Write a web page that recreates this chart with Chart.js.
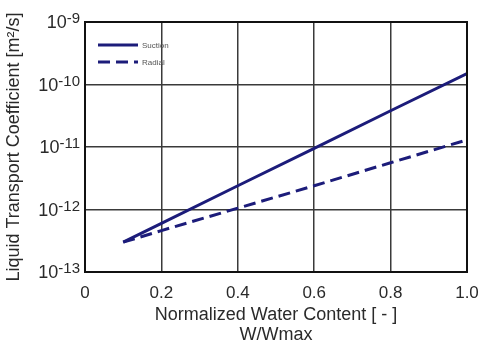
<!DOCTYPE html>
<html>
<head>
<meta charset="utf-8">
<script src="https://cdn.jsdelivr.net/npm/chart.js@4.4.0/dist/chart.umd.min.js"></script>
<style>
  html, body { margin: 0; padding: 0; background: #fff; }
  #wrap { width: 482px; height: 347px; }
</style>
</head>
<body>
<div id="wrap"><canvas id="grafico"></canvas></div>
<script>
// datos
var contenido = [0.1, 0.2, 0.4, 0.6, 0.8, 1.0];
var succion = [3.0e-13, 6.0e-13, 2.4e-12, 9.5e-12, 3.8e-11, 1.5e-10];
var radial = [3.0e-13, 4.6e-13, 1.05e-12, 2.4e-12, 5.6e-12, 1.3e-11];
var ticksX = [0, 0.2, 0.4, 0.6, 0.8, 1.0];
var exponentesY = [-13, -12, -11, -10, -9];

var colorLinea = '#1c1c7a';
var colorTexto = '#2a2a2a';
var fuente = '"Liberation Sans", Arial, sans-serif';

function puntos(valores) {
    return contenido.map(function (x, i) {
        return { x: x, y: valores[i] };
    });
}

// etiquetas 10^n con exponente elevado
var etiquetasY = {
    id: 'etiquetasY',
    afterDraw: function (chart) {
        var ctx = chart.ctx;
        var escala = chart.scales.y;
        ctx.save();
        ctx.fillStyle = colorTexto;
        ctx.textBaseline = 'alphabetic';
        ctx.textAlign = 'left';
        exponentesY.forEach(function (e) {
            var y = escala.getPixelForValue(Math.pow(10, e));
            var exp = '-' + Math.abs(e);
            ctx.font = '15px ' + fuente;
            var wExp = ctx.measureText(exp).width;
            var derecha = escala.right - 5;
            ctx.fillText(exp, derecha - wExp, y + 1);
            ctx.font = '18px ' + fuente;
            var wBase = ctx.measureText('10').width;
            ctx.fillText('10', derecha - wExp - wBase, y + 6);
        });
        ctx.restore();
    }
};

// leyenda dentro del area del grafico
var leyenda = {
    id: 'leyendaInterna',
    afterDatasetsDraw: function (chart) {
        var ctx = chart.ctx;
        var area = chart.chartArea;
        ctx.save();
        chart.data.datasets.forEach(function (ds, i) {
            var y = area.top + 23 + i * 17;
            ctx.strokeStyle = ds.borderColor;
            ctx.lineWidth = 3;
            ctx.setLineDash(ds.borderDash || []);
            ctx.beginPath();
            ctx.moveTo(area.left + 13, y);
            ctx.lineTo(area.left + 53, y);
            ctx.stroke();
            ctx.setLineDash([]);
            ctx.fillStyle = '#555';
            ctx.font = '8px ' + fuente;
            ctx.textBaseline = 'middle';
            ctx.fillText(ds.label, area.left + 57, y + 1);
        });
        ctx.restore();
    }
};

var ctx = document.getElementById('grafico').getContext('2d');
new Chart(ctx, {
    type: 'line',
    data: {
        datasets: [{
            label: 'Suction',
            data: puntos(succion),
            borderColor: colorLinea,
            borderWidth: 3,
            pointRadius: 0,
            fill: false
        }, {
            label: 'Radial',
            data: puntos(radial),
            borderColor: colorLinea,
            borderWidth: 3,
            borderDash: [12, 6],
            pointRadius: 0,
            fill: false
        }]
    },
    options: {
        responsive: true,
        maintainAspectRatio: false,
        animation: false,
        layout: {
            padding: { top: 22, right: 15, left: 0, bottom: 0 }
        },
        scales: {
            x: {
                type: 'linear',
                min: 0,
                max: 1,
                afterBuildTicks: function (escala) {
                    escala.ticks = ticksX.map(function (v) { return { value: v }; });
                },
                afterFit: function (escala) {
                    escala.height = 75;
                    escala.paddingLeft = 0;
                    escala.paddingRight = 0;
                },
                grid: { color: '#3a3a3a', lineWidth: 1.5, drawTicks: false },
                border: { color: '#111', width: 2 },
                ticks: {
                    color: colorTexto,
                    padding: 11,
                    font: { family: fuente, size: 17 },
                    callback: function (v) { return v === 0 ? '0' : v.toFixed(1); }
                },
                title: {
                    display: true,
                    text: ['Normalized Water Content [ - ]', 'W/Wmax'],
                    color: colorTexto,
                    font: { family: fuente, size: 18, lineHeight: 1.1 },
                    padding: { top: 0, bottom: 2 }
                }
            },
            y: {
                type: 'logarithmic',
                min: 1e-13,
                max: 1e-9,
                afterBuildTicks: function (escala) {
                    escala.ticks = exponentesY.map(function (e) { return { value: Math.pow(10, e) }; });
                },
                afterFit: function (escala) { escala.width = 85; },
                grid: { color: '#3a3a3a', lineWidth: 1.5, drawTicks: false },
                border: { color: '#111', width: 2 },
                ticks: { display: false },
                title: {
                    display: true,
                    text: 'Liquid Transport Coefficient [m\u00b2/s]',
                    color: colorTexto,
                    font: { family: fuente, size: 18 },
                    padding: { top: 3, bottom: 0 }
                }
            }
        },
        plugins: {
            legend: { display: false },
            tooltip: { enabled: false }
        }
    },
    plugins: [etiquetasY, leyenda, {
        // marco completo alrededor del area
        id: 'marco',
        afterDraw: function (chart) {
            var a = chart.chartArea;
            var c = chart.ctx;
            c.save();
            c.strokeStyle = '#111';
            c.lineWidth = 2;
            c.strokeRect(a.left, a.top, a.right - a.left, a.bottom - a.top);
            c.restore();
        }
    }]
});
</script>
</body>
</html>
